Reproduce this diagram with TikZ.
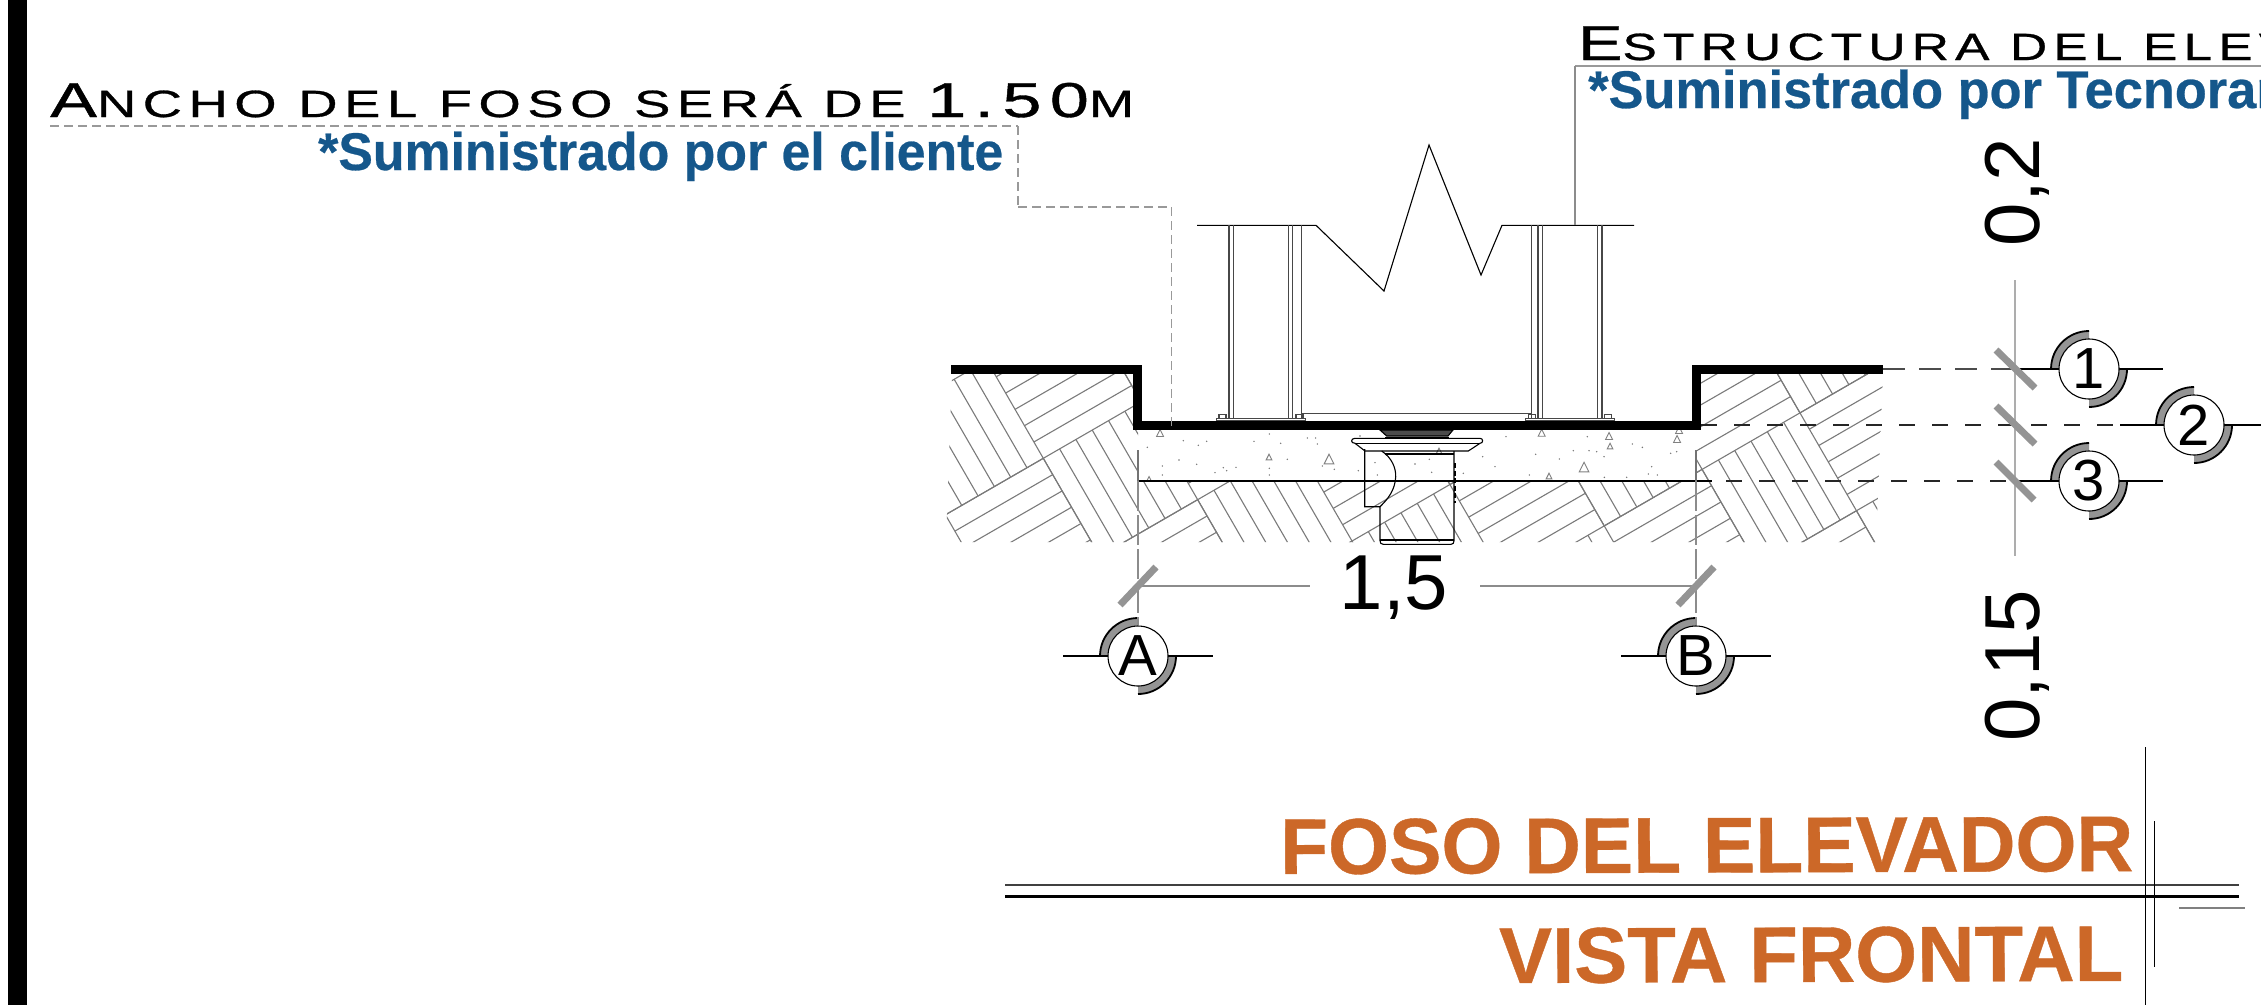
\documentclass[tikz,border=0pt]{standalone}
\usepackage{fontspec}
\usepackage{graphicx}
\setmainfont[BoldFeatures={FakeBold=0.5}]{Liberation Sans}
\newfontfamily\wide[LetterSpace=12,FakeBold=0.7]{Liberation Sans}
\definecolor{blueT}{HTML}{15578B}
\definecolor{orangeT}{HTML}{CC6828}
\newcommand{\bigc}[1]{{\fontsize{49}{49}\selectfont #1}}
\newcommand{\smc}[1]{{\fontsize{38}{38}\selectfont #1}}
\tikzset{
  hatchline/.style={draw=black!52,line width=1.1pt},
  steel/.style={draw=black!72,line width=1.1pt},
  fine/.style={draw=black,line width=1.1pt},
  leader/.style={draw=black!40,line width=1.3pt,dash pattern=on 9pt off 5pt},
  guide/.style={draw=black!32,line width=1.8pt},
  dimline/.style={draw=black!45,line width=1.2pt},
  tickm/.style={draw=black!42,line width=7pt},
  bubble/.style={circle,draw=black,fill=white,line width=1.1pt,minimum size=60pt,inner sep=0pt,font=\fontsize{58}{58}\selectfont},
  dim/.style={inner sep=0pt,font=\fontsize{78}{78}\selectfont},
  section/.style={draw=black,line width=2pt},
  dashblack/.style={draw=black!85,line width=1.1pt,dash pattern=on 16pt off 17pt},
  speck/.style={draw=black!50,line width=.9pt,fill=white}
}
% one section bubble: half-band arcs behind the circle (top left and bottom right)
\newcommand{\bandarcs}[2]{%
  \fill[black!42] (#1,#2)++(180:38)arc[start angle=180,end angle=270,radius=38]--++(0,8)arc[start angle=270,end angle=180,radius=30]--cycle;
  \draw[black,line width=1.8pt] (#1,#2)++(180:38)arc[start angle=180,end angle=270,radius=38];
  \fill[black!42] (#1,#2)++(0:38)arc[start angle=0,end angle=90,radius=38]--++(0,-8)arc[start angle=90,end angle=0,radius=30]--cycle;
  \draw[black,line width=1.8pt] (#1,#2)++(0:38)arc[start angle=0,end angle=90,radius=38];
}
\begin{document}
\begin{tikzpicture}[x=1pt,y=-1pt]
\useasboundingbox (0,0) rectangle (2261,1005);
\begin{scope}
\clip (0,0) rectangle (2261,1005);
% left bar
\fill[black] (8,0) rectangle (27,1005);
% soil hatching: checkerboard basket weave in a frame turned by 30 degrees
\begin{scope}
\clip (952,374)--(1133,374)--(1133,430)--(1138,430)--(1138,482)--(1696,482)--(1696,430)--(1701,430)--(1701,374)--(1883,374)--(1876,542)--(946,542)--cycle;
\begin{scope}[shift={(1043.3,458.3)},x={(.866pt,.5pt)},y={(.5pt,-.866pt)}]
\foreach \i in {-2,...,7}{
 \foreach \j in {-2,...,6}{
  \pgfmathtruncatemacro{\prt}{mod(abs(\i+\j),2)}
  \ifnum\prt=0
    \foreach \k in {0,...,5}{\draw[hatchline] ({113*\i+18.83*\k},{113*\j}) -- ++(0,113);}
  \else
    \foreach \k in {0,...,5}{\draw[hatchline] ({113*\i},{113*\j+18.83*\k}) -- ++(113,0);}
  \fi
 }}
\foreach \i in {-2,...,8}{\draw[hatchline] ({113*\i},-226) -- ({113*\i},791);}
\foreach \j in {-2,...,7}{\draw[hatchline] (-226,{113*\j}) -- (904,{113*\j});}
\end{scope}
\end{scope}
% concrete specks
\foreach \zx/\zy in {760/302,805/316,830/304,652/322,747/360,697/378,697/405,800/373,855/398,880/383,890/392,918/382,972/304,1018/282,1052/310,1018/385,1018/405,1072/358,1132/294,1157/294,1162/312,1177/378,1213/388,1285/392,1290/288,1335/368,1342/405}
  \fill[black!55] ({930+\zx/3},{340+\zy/3}) circle (.8);
\foreach \zx/\zy in {318/290,248/350,285/380,190/400,407/343,478/357,388/405,520/332,567/332,590/335,612/350,562/290,697/312,727/322,812/340,830/335,755/380,745/402,772/405,613/412,680/412,45/372,95/397,88/358}
  \fill[black!55] ({1400+\zx/3},{340+\zy/3}) circle (.8);
\foreach \cx/\cy/\r in {1160/433/3.5,1269/457/2.8,1329/459/4.8,1149/479/2.5,1541.7/432.7/3.5,1609/436/3.5,1610/446/2.8,1677/439/3.5,1679/430/3.5,1584/467/4.8,1549/476/2.8,1439/451/2.8}
  \draw[speck] ({\cx},{\cy-\r}) -- ({\cx+\r},{\cy+\r}) -- ({\cx-\r},{\cy+\r}) -- cycle;
% concrete bottom line and level lines
\coordinate (slabL) at (1138,481);
\coordinate (slabR) at (1712,481);
\draw[fine] (slabL) -- (slabR);
% steel structure
\draw[fine] (1197,225.3) -- (1316,225.3) -- (1384,291) -- (1429,145) -- (1481,275) -- (1502,225.3) -- (1634,225.3);
\foreach \xx in {1229,1233.7,1288.7,1292.5,1301.5,1531.5,1538,1542.5,1597.7,1602}
  \draw[steel] (\xx,225.3) -- (\xx,418.3);
\draw[steel] (1301.7,413.3) -- (1532,413.3);
\draw[steel] (1216.7,418.3) rectangle (1305.3,421);
\draw[steel] (1525.7,418.3) rectangle (1614.3,421);
\foreach \xx in {1219,1296,1528.7,1604.7}
  \draw[steel] (\xx,414.3) rectangle ++(7,4);
% drain
\draw[fine,fill=black!70] (1380,430) -- (1386.7,436) -- (1448,436) -- (1453,430) -- cycle;
\draw[fine] (1385,437.3) -- (1449,437.3);
\draw[fine] (1355,438.3) -- (1480,438.3) .. controls (1483.5,438.3) and (1483.5,443.3) .. (1480,443.3) -- (1468.3,451) -- (1365,451) -- (1355,443.3) .. controls (1350.5,443.3) and (1350.5,438.3) .. (1355,438.3) -- cycle;
\draw[fine] (1355,443.3) -- (1480,443.3);
\draw[fine] (1364.7,449) -- (1364.7,506.7) -- (1380,506.7) -- (1380,540.7) .. controls (1380,543) and (1381,544.3) .. (1383.3,544.3) -- (1451,544.3) .. controls (1453,544.3) and (1454,543) .. (1454,540.7) -- (1454,451);
\draw[fine] (1380,540) -- (1454,540);
\draw[fine] (1385,454) -- (1454,454);
\draw[fine] (1381.7,451) .. controls (1392,458) and (1396,468) .. (1395.7,477) .. controls (1395,490) and (1388,499) .. (1380,506.7);
\draw[black,line width=1.8pt,dash pattern=on 5pt off 2.5pt] (1455,463) -- (1455,503);
% thick section line
\draw[black,line width=9pt,miter limit=10] (951,369.5) -- (1137.5,369.5) -- (1137.5,425.5) -- (1696.5,425.5) -- (1696.5,369.5) -- (1883,369.5);
% bubbles
\bandarcs{1138}{656}
\bandarcs{1696}{656}
\bandarcs{2089}{369}
\bandarcs{2194}{425}
\bandarcs{2089}{481}
\coordinate (aL) at (1063,656);\coordinate (aR) at (1213,656);
\coordinate (bL) at (1621,656);\coordinate (bR) at (1771,656);
\coordinate (t1) at (2015.5,369);\coordinate (e1) at (2163,369);
\coordinate (s2) at (2120,425);\coordinate (e2) at (2268,425);
\coordinate (t3) at (2015.5,481);\coordinate (e3) at (2163,481);
\draw[section] (aL) -- (aR);
\draw[section] (bL) -- (bR);
\draw[section] (t1) -- (e1);
\draw[section] (s2) -- (e2);
\draw[section] (t3) -- (e3);
\node[bubble] (bubA) at (1138,656) {A};
\node[bubble] (bubB) at (1696,656) {B};
\node[bubble] (bub1) at (2089,369) {1};
\node[bubble] (bub2) at (2194,425) {2};
\node[bubble] (bub3) at (2089,481) {3};
% dashed level lines
\coordinate (lv1a) at (1883,369);
\coordinate (lv2a) at (1701,425);
\coordinate (lv3a) at (1712,481);
\draw[dashblack,draw=black!70,dash pattern=on 22pt off 14pt] (lv1a) -- (t1);
\draw[dashblack] (lv2a) -- (s2);
\draw[dashblack,dash phase=-14pt] (lv3a) -- (t3);
% guide verticals
\coordinate (g1) at (1138,450);\coordinate (g2) at (1696,450);
\draw[black!45,line width=1.4pt,dash pattern=on 30pt off 4pt] (slabL) -- (bubA.north);
\draw[black!45,line width=1.4pt,dash pattern=on 30pt off 4pt] (1696,481) -- (bubB.north);
\draw[black!55,line width=1.2pt] (g1) -- (slabL);
\draw[black!55,line width=1.2pt] (g2) -- (1696,481);
\coordinate (vt) at (2015,280);\coordinate (vb) at (2015,556);
\draw[guide] (vt) -- (vb);
% dimension lines
\coordinate (dA) at (1138,586);\coordinate (dB) at (1696,586);
\node[dim,anchor=base] (dim15) at (1394,609) {1,5};
\draw[dimline] (dA) -- (1310,586);
\draw[dimline] (1480,586) -- (dB);
\draw[tickm] (1120,605) -- (1156,567);
\draw[tickm] (1678,605) -- (1714,567);
\draw[tickm] (1996,350) -- (2035,388);
\draw[tickm] (1996,406) -- (2035,444);
\draw[tickm] (1996,462) -- (2034,500);
\node[dim,anchor=base,rotate=90] (dim02) at (2039,192) {0,2};
\node[dim,anchor=base,rotate=90] (dim015) at (2039,666) {0,15};
% leaders
\coordinate (la) at (50,126);\coordinate (lb) at (1018,126);\coordinate (lc) at (1018,207);\coordinate (ld) at (1171.5,207);\coordinate (le) at (1171.5,426);
\draw[leader] (la) -- (lb);
\draw[leader] (lb) -- (lc);
\draw[leader] (lc) -- (ld);
\draw[leader] (ld) -- (le);
\coordinate (ra) at (2261,66);\coordinate (rb) at (1575,66);\coordinate (rc) at (1575,225);
\draw[draw=black!40,line width=1.6pt] (ra) -- (rb);
\draw[draw=black!45,line width=1.2pt] (rb) -- (rc);
% texts
\node[anchor=base west,inner sep=0pt] (t1a) at (50,117) {\resizebox{1084pt}{\height}{\wide\bigc{A}\smc{NCHO DEL FOSO SERÁ DE }\bigc{1.50}\smc{M}}};
\node[anchor=base west,inner sep=0pt,text=blueT,font=\bfseries\fontsize{53}{53}\selectfont] (t1b) at (318,170) {\resizebox{685pt}{\height}{*Suministrado por el cliente}};
\node[anchor=base west,inner sep=0pt] (t2a) at (1578,60) {\resizebox{715pt}{\height}{\wide\bigc{E}\smc{STRUCTURA DEL ELEV}}};
\node[anchor=base west,inner sep=0pt,text=blueT,font=\bfseries\fontsize{53}{53}\selectfont] (t2b) at (1588,108) {\resizebox{700pt}{\height}{*Suministrado por Tecnoran}};
% title
\draw[draw=black!75,line width=2pt] (1005,885) -- (2239,885);
\draw[draw=black,line width=3pt] (1005,896) -- (2239,896);
\draw[draw=black!50,line width=2pt] (2179,908) -- (2245,908);
\draw[draw=black,line width=1pt] (2145,747) -- (2145,1005);
\draw[draw=black,line width=1.8pt] (2154.5,821) -- (2154.5,967);
\node[anchor=base west,inner sep=0pt,rotate=.2,text=orangeT,font=\bfseries\fontsize{79}{79}\selectfont] (title1) at (1280,874) {\resizebox{853pt}{\height}{FOSO DEL ELEVADOR}};
\node[anchor=base west,inner sep=0pt,rotate=.2,text=orangeT,font=\bfseries\fontsize{79}{79}\selectfont] (title2) at (1499,983) {\resizebox{624pt}{\height}{VISTA FRONTAL}};
\end{scope}
\end{tikzpicture}
\end{document}
